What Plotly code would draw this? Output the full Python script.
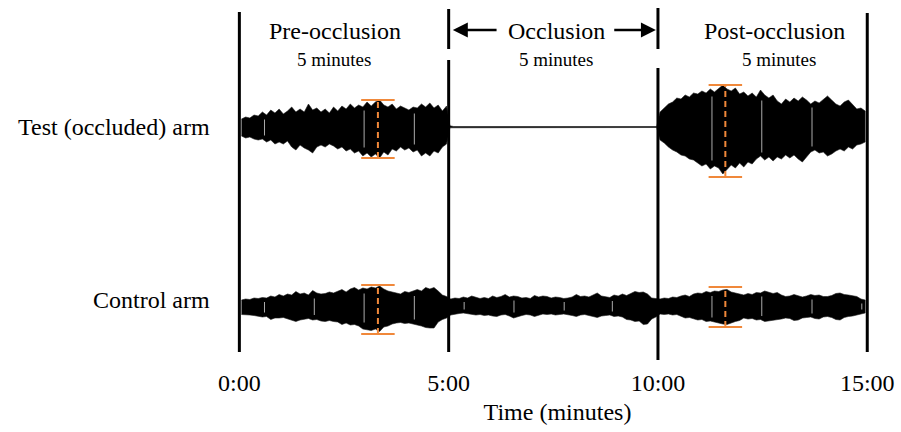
import plotly.graph_objects as go

# ---- phases and labels -------------------------------------------------
PHASE_BOUNDS = [0, 5, 10, 15]
TICK_LABELS = ["0:00", "5:00", "10:00", "15:00"]
PHASE_TITLES = ["Pre-occlusion", "Occlusion", "Post-occlusion"]
PHASE_DURATIONS = ["5 minutes", "5 minutes", "5 minutes"]
ARM_LABELS = ["Test (occluded) arm", "Control arm"]

# ---- signal envelopes, sampled every 0.1 min (amplitude in a.u.) -------
# Test arm, pre-occlusion (0.05 ... 4.95 min)
TEST_PRE_UPPER = [
    0.8, 1.0, 0.9, 1.2, 1.1, 1.5, 1.2, 1.7, 1.4, 1.8,
    1.3, 1.6, 2.0, 1.5, 1.8, 1.5, 2.3, 1.7, 1.9, 1.5,
    1.8, 1.4, 2.0, 1.6, 2.1, 1.8, 2.3, 1.9, 2.2, 2.0,
    2.5, 2.1, 2.5, 2.7, 2.2, 2.0, 2.3, 1.8, 2.1, 1.9,
    1.7, 2.0, 1.9, 2.3, 2.0, 2.4, 1.9, 2.2, 1.6, 2.1,
]
TEST_PRE_LOWER = [
    -0.9, -1.1, -1.0, -1.2, -1.3, -1.2, -1.5, -1.3, -1.7, -1.5,
    -1.7, -1.4, -2.0, -2.3, -1.8, -2.1, -2.3, -2.6, -2.0, -1.8,
    -2.0, -1.7, -1.9, -2.2, -2.0, -2.4, -2.2, -2.6, -2.4, -2.9,
    -2.6, -3.0, -2.7, -3.1, -2.5, -2.8, -2.2, -2.4, -2.0, -2.3,
    -2.1, -2.5, -2.3, -2.9, -2.6, -2.9, -2.4, -2.6, -2.0, -1.7,
]
# Test arm during occlusion: flat trace
TEST_OCC_TIME = [5.03, 5.12, 9.97]
TEST_OCC_UPPER = [0.12, 0.05, 0.05]
TEST_OCC_LOWER = [-0.08, -0.05, -0.05]
# Test arm, post-occlusion (10.05 ... 14.95 min)
TEST_POST_UPPER = [
    1.5, 1.9, 2.3, 2.5, 2.9, 2.8, 3.2, 3.0, 3.4, 3.3,
    3.6, 3.4, 3.8, 3.5, 3.9, 4.2, 3.8, 3.6, 3.9, 3.3,
    3.5, 3.1, 3.4, 3.0, 3.7, 3.2, 2.9, 3.2, 2.6, 2.3,
    2.8, 2.5, 2.9, 2.6, 3.0, 2.7, 2.3, 2.6, 2.4, 2.8,
    3.1, 2.7, 2.3, 2.1, 2.5, 2.7, 2.2, 1.8, 1.9, 1.6,
]
TEST_POST_LOWER = [
    -1.3, -1.6, -2.0, -2.3, -2.5, -2.8, -2.9, -3.2, -3.3, -3.6,
    -3.9, -3.7, -4.2, -3.9, -4.1, -4.7, -4.3, -3.8, -4.1, -3.6,
    -4.0, -3.5, -3.7, -3.2, -2.9, -3.3, -3.0, -3.4, -3.0, -3.2,
    -2.8, -3.1, -2.8, -3.2, -3.5, -3.0, -2.5, -2.3, -2.6, -2.5,
    -2.9, -2.7, -2.4, -2.2, -2.4, -2.0, -2.2, -1.8, -1.7, -1.5,
]
# Control arm, whole recording (0.05 ... 14.95 min), one row per minute
CONTROL_UPPER = [
    0.7, 0.8, 0.75, 0.9, 0.85, 0.95, 0.9, 1.1, 1.0, 1.25,
    1.1, 1.3, 1.2, 1.55, 1.3, 1.4, 1.2, 1.65, 1.4, 1.3,
    1.35, 1.5, 1.4, 1.6, 1.75, 1.5, 1.8, 1.95, 1.7, 1.9,
    1.8, 2.0, 1.9, 2.1, 1.8, 1.6, 1.5, 1.45, 1.3, 1.55,
    1.45, 1.6, 1.75, 1.6, 1.95, 1.8, 1.95, 1.6, 1.2, 1.05,
    0.8, 0.9, 0.85, 1.0, 0.9, 1.1, 1.0, 0.85, 0.95, 0.85,
    1.1, 0.95, 1.05, 1.25, 1.0, 1.1, 1.05, 0.9, 0.95, 0.85,
    1.15, 1.0, 1.1, 1.05, 0.9, 1.0, 0.95, 0.85, 0.9, 1.0,
    1.25, 1.05, 1.1, 1.0, 1.2, 1.4, 1.1, 1.05, 0.95, 1.2,
    1.1, 1.3, 1.15, 1.35, 1.55, 1.45, 1.5, 1.3, 0.9, 0.85,
    0.8, 0.9, 0.85, 1.0, 0.95, 1.1, 1.2, 1.05, 1.3, 1.4,
    1.35, 1.55, 1.45, 1.6, 1.55, 1.7, 1.75, 1.5, 1.4, 1.3,
    1.2, 1.35, 1.25, 1.45, 1.4, 1.6, 1.5, 1.35, 1.45, 1.2,
    1.05, 1.1, 1.25, 1.1, 1.0, 1.1, 1.25, 1.15, 1.2, 1.05,
    1.05, 1.15, 1.35, 1.4, 1.25, 1.2, 1.1, 1.05, 0.8, 0.7,
]
CONTROL_LOWER = [
    -0.75, -0.8, -0.8, -0.85, -0.9, -1.0, -0.95, -1.25, -1.1, -1.1,
    -1.05, -1.2, -1.3, -1.45, -1.3, -1.2, -1.15, -1.3, -1.25, -1.4,
    -1.45, -1.35, -1.45, -1.5, -1.75, -1.6, -1.8, -1.75, -1.9, -2.2,
    -2.3, -2.35, -2.2, -2.45, -2.0, -1.9, -1.7, -1.6, -1.55, -1.65,
    -1.6, -1.75, -1.8, -1.9, -2.05, -2.1, -2.1, -1.5, -1.25, -1.1,
    -0.8, -0.7, -0.65, -0.6, -0.7, -0.75, -0.8, -0.75, -0.85, -0.8,
    -0.9, -0.95, -0.8, -0.75, -0.9, -1.1, -1.0, -0.85, -0.75, -0.8,
    -0.95, -0.85, -0.7, -0.75, -0.7, -0.8, -0.75, -0.7, -0.75, -0.85,
    -0.95, -0.8, -0.75, -0.8, -0.95, -1.05, -0.9, -0.85, -0.8, -0.95,
    -0.9, -1.0, -1.25, -1.3, -1.45, -1.4, -1.75, -1.7, -1.2, -1.0,
    -0.7, -0.75, -0.7, -0.8, -0.75, -0.9, -1.1, -1.05, -1.2, -1.3,
    -1.25, -1.45, -1.4, -1.55, -1.6, -1.7, -1.75, -1.6, -1.45, -1.35,
    -1.1, -1.2, -1.15, -1.3, -1.25, -1.45, -1.4, -1.3, -1.25, -1.2,
    -1.1, -1.15, -1.35, -1.3, -1.1, -1.05, -1.0, -1.15, -1.2, -1.0,
    -0.95, -1.05, -1.25, -1.3, -1.05, -0.95, -0.9, -0.85, -0.7, -0.6,
]

# brief dropouts between recording blocks (minutes)
TEST_GAP_TIMES = [0.60, 2.98, 4.18, 11.29, 12.48, 13.68]
CONTROL_GAP_TIMES = [0.60, 1.79, 2.98, 4.18, 5.37, 6.56, 7.76, 8.91,
                     11.29, 12.48, 13.68, 14.87]

# ---- peak-to-peak amplitude markers ------------------------------------
ERR_TIME = [3.31, 11.61]
TEST_ERR_HIGH = [2.7, 4.2]
TEST_ERR_LOW = [-3.1, -5.0]
CONTROL_ERR_HIGH = [2.2, 2.0]
CONTROL_ERR_LOW = [-2.7, -2.0]

# ---- styling -----------------------------------------------------------
FONT = "Liberation Serif"
ORANGE = "#F0883A"
TEST_OFFSET = 18.0
CONTROL_OFFSET = 0.0
CAP_HALF = 0.40
SAMPLE_STEP = 0.1
GAP_INSET = 0.35


def sample_times(start, count):
    return [round(start + SAMPLE_STEP * i, 2) for i in range(count)]


test_time = (sample_times(0.05, len(TEST_PRE_UPPER)) + TEST_OCC_TIME
             + sample_times(10.05, len(TEST_POST_UPPER)))
test_upper = TEST_PRE_UPPER + TEST_OCC_UPPER + TEST_POST_UPPER
test_lower = TEST_PRE_LOWER + TEST_OCC_LOWER + TEST_POST_LOWER
control_time = sample_times(0.05, len(CONTROL_UPPER))

fig = go.Figure()


def envelope(times, upper, lower, offset):
    xs = list(times) + list(times[::-1])
    ys = [offset + u for u in upper] + [offset + l for l in lower[::-1]]
    return go.Scatter(
        x=xs, y=ys, mode="lines", fill="toself", fillcolor="black",
        line=dict(color="#1a1a1a", width=0.6), hoverinfo="skip", showlegend=False,
    )


fig.add_trace(envelope(test_time, test_upper, test_lower, TEST_OFFSET))
fig.add_trace(envelope(control_time, CONTROL_UPPER, CONTROL_LOWER, CONTROL_OFFSET))

# thin light dropout lines, kept inside each trace's envelope
gap_x, gap_y = [], []
for gaps, times, upper, lower, off in (
        (TEST_GAP_TIMES, test_time, test_upper, test_lower, TEST_OFFSET),
        (CONTROL_GAP_TIMES, control_time, CONTROL_UPPER, CONTROL_LOWER, CONTROL_OFFSET)):
    for t in gaps:
        i = min(range(len(times)), key=lambda k: abs(times[k] - t))
        hi = min(upper[max(i - 1, 0):i + 2])
        lo = max(lower[max(i - 1, 0):i + 2])
        gap_x += [t, t, None]
        gap_y += [off + lo + GAP_INSET, off + hi - GAP_INSET, None]
fig.add_trace(go.Scatter(x=gap_x, y=gap_y, mode="lines",
                         line=dict(color="rgba(190,190,190,0.9)", width=1),
                         hoverinfo="skip", showlegend=False))

# amplitude markers: dashed stem with solid caps
stem_x, stem_y, cap_x, cap_y = [], [], [], []
for highs, lows, off in ((TEST_ERR_HIGH, TEST_ERR_LOW, TEST_OFFSET),
                         (CONTROL_ERR_HIGH, CONTROL_ERR_LOW, CONTROL_OFFSET)):
    for t, hi, lo in zip(ERR_TIME, highs, lows):
        stem_x += [t, t, None]
        stem_y += [off + lo, off + hi, None]
        for v in (hi, lo):
            cap_x += [t - CAP_HALF, t + CAP_HALF, None]
            cap_y += [off + v, off + v, None]

fig.add_trace(go.Scatter(x=stem_x, y=stem_y, mode="lines",
                         line=dict(color=ORANGE, width=2, dash="6px,4px"),
                         hoverinfo="skip", showlegend=False))
fig.add_trace(go.Scatter(x=cap_x, y=cap_y, mode="lines",
                         line=dict(color=ORANGE, width=2),
                         hoverinfo="skip", showlegend=False))

# phase dividers (gaps leave room for the "Occlusion" arrows)
DIVIDER_SEGMENTS = {
    0: [(-4.5, 29.5)],
    5: [(-4.5, 24.7), (25.8, 29.8)],
    10: [(-5.3, 23.9), (25.8, 29.9)],
    15: [(-4.5, 29.4)],
}
for xb in PHASE_BOUNDS:
    for y0, y1 in DIVIDER_SEGMENTS[xb]:
        fig.add_shape(type="line", xref="x", yref="y", x0=xb, x1=xb, y0=y0, y1=y1,
                      line=dict(color="black", width=3), layer="above")

# phase titles and durations
TITLE_X = [2.28, 7.58, 12.79]
DURATION_X = [2.26, 7.56, 12.88]
for tx, dx, title, dur in zip(TITLE_X, DURATION_X, PHASE_TITLES, PHASE_DURATIONS):
    fig.add_annotation(x=tx, y=27.6, xref="x", yref="y", text=title, showarrow=False,
                       font=dict(family=FONT, size=24, color="black"))
    fig.add_annotation(x=dx, y=24.8, xref="x", yref="y", text=dur, showarrow=False,
                       font=dict(family=FONT, size=19, color="black"))

# arrows either side of "Occlusion"
for head, tail in ((5.10, 6.18), (9.95, 8.92)):
    fig.add_annotation(x=head, y=27.7, ax=tail, ay=27.7, xref="x", yref="y",
                       axref="x", ayref="y", text="", showarrow=True,
                       arrowhead=2, arrowsize=1.15, arrowwidth=2.6, arrowcolor="black")

# arm labels to the left of each trace
for label, off, lift in zip(ARM_LABELS, (TEST_OFFSET, CONTROL_OFFSET), (0, 7)):
    fig.add_annotation(x=0, xref="paper", xanchor="right", xshift=-19,
                       y=off, yref="y", yshift=lift, text=label, showarrow=False,
                       font=dict(family=FONT, size=24, color="black"))

fig.update_layout(
    width=901, height=432,
    margin=dict(l=231, r=17, t=0, b=72),
    paper_bgcolor="white", plot_bgcolor="white",
    font=dict(family=FONT, size=24, color="black"),
    showlegend=False,
    xaxis=dict(
        range=[-0.2, 15.4], tickvals=PHASE_BOUNDS, ticktext=TICK_LABELS,
        showgrid=False, zeroline=False, showline=False, ticks="",
        ticklabelstandoff=6,
        tickfont=dict(family=FONT, size=24, color="black"),
        title=dict(text="Time (minutes)", standoff=8,
                   font=dict(family=FONT, size=24, color="black")),
    ),
    yaxis=dict(
        range=[-5.3, 30.7], showticklabels=False,
        showgrid=False, zeroline=False, showline=False, ticks="",
    ),
)

fig.write_html("out.html")
